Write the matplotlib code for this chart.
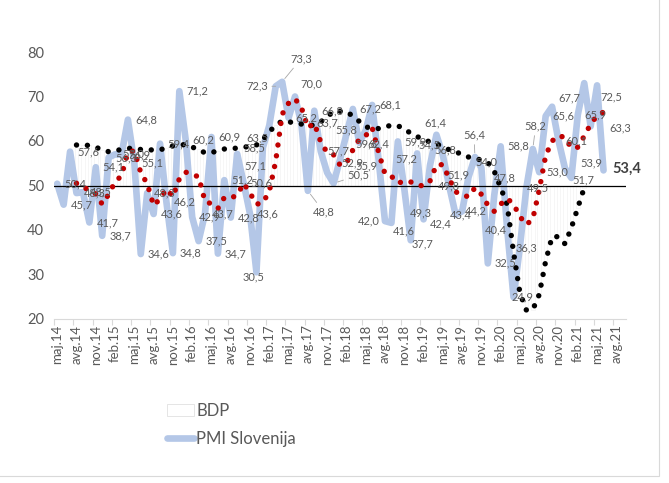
import numpy as np
import matplotlib.pyplot as plt
from matplotlib.patches import Patch, Rectangle
from matplotlib.lines import Line2D

plt.rcParams["font.family"] = ["Lato", "DejaVu Sans"]

nan = np.nan

# quarterly axis labels (every third month, starting maj.14)
tick_labels = [
    "maj.14", "avg.14", "nov.14",
    "feb.15", "maj.15", "avg.15", "nov.15",
    "feb.16", "maj.16", "avg.16", "nov.16",
    "feb.17", "maj.17", "avg.17", "nov.17",
    "feb.18", "maj.18", "avg.18", "nov.18",
    "feb.19", "maj.19", "avg.19", "nov.19",
    "feb.20", "maj.20", "avg.20", "nov.20",
    "feb.21", "maj.21", "avg.21",
]

# PMI Slovenija, monthly from maj.14
pmi = [
    50.4, 45.7, 57.6, 48.3, 48.5, 41.7, 54.1, 38.7, 56.3, 57.0,
    56.9, 64.8, 55.1, 34.6, 48.3, 43.6, 59.4, 46.2, 34.8, 71.2,
    60.2, 42.9, 37.5, 43.7, 60.9, 34.7, 51.2, 42.8, 57.1, 50.6,
    43.6, 30.5, 58.5, 63.5, 72.3, 73.3, 65.2, 70.0, 63.7, 48.8,
    66.8, 57.7, 52.9, 50.5, 55.8, 61.5, 67.2, 59.6, 62.4, 68.1,
    55.9, 42.0, 41.6, 59.9, 49.3, 37.7, 57.2, 42.4, 54.5, 61.4,
    56.8, 49.8, 43.4, 44.2, 51.9, 56.4, 54.0, 32.5, 47.8, 58.8,
    40.4, 24.9, 36.3, 49.5, 58.2, 53.0, 65.6, 67.7, 60.1, 53.9,
    51.7, 65.9, 73.0, 63.3, 72.5, 53.4,
]
# months whose data label is not shown
pmi_hidden = [45, 82]

# red dotted series
pmi_avg = [
    nan, nan, nan,
    50.5, 49.8, 48.8, 48.1, 45.8, 48.0, 50.8, 52.2, 57.5, 57.8,
    52.9, 50.4, 45.5, 47.0, 49.2, 47.5, 51.5, 53.0, 52.4, 52.0,
    46.4, 45.9, 44.8, 47.3, 47.2, 47.8, 50.5, 48.3, 45.8, 46.1,
    48.7, 55.5, 66.0, 68.5, 69.5, 67.5, 63.0, 64.0, 59.8, 57.4,
    56.9, 54.6, 55.0, 58.0, 60.4, 61.2, 63.0, 57.5, 52.6, 52.1,
    50.5, 51.0, 50.8, 50.1, 49.9, 51.0, 54.6, 54.7, 51.5, 48.6,
    47.8, 47.5, 49.5, 48.0, 45.6, 44.2, 45.8, 47.1, 45.8, 43.0,
    41.2, 42.5, 49.0, 56.7, 60.0, 61.2, 60.8, 58.4, 58.6, 61.1,
    63.8, 65.7, 66.5,
]

# BDP (black dotted series, also the faint columns)
bdp = [
    nan, nan, nan,
    59.1, 59.1, 59.0, 58.6, 58.0, 57.6, 57.8, 58.1, 58.4, 58.2,
    58.1, 58.0, 58.0, 58.0, 58.5, 58.9, 59.1, 59.2, 58.6, 58.2,
    57.3, 57.4, 57.8, 58.2, 58.3, 58.4, 58.6, 58.8, 59.1, 60.3,
    62.1, 63.5, 64.5, 64.3, 64.1, 63.8, 63.6, 63.5, 64.3, 65.5,
    66.6, 66.7, 66.6, 65.6, 64.4, 63.2, 62.8, 62.8, 63.1, 63.6,
    63.4, 62.8, 61.7, 61.0, 60.3, 59.8, 59.3, 58.8, 58.0, 57.7,
    56.8, 56.4, 56.1, 55.7, 55.2, 53.2, 49.5, 45.7, 35.0, 25.8,
    22.0, 22.1, 25.5, 33.0, 38.5, 38.5, 36.9, 40.5, 45.0, 49.5,
    nan, nan, nan,
]

# label placement (pixels: dx, dy up, alignment); default is right of the point
label_pos = {
    31: (-3, -5, "center"), 32: (2, 0, "right"), 33: (-1, -12, "right"),
    34: (-8, 0, "right"), 35: (8, 23, "left"), 37: (5, 13, "left"),
    38: (15, 2, "left"), 39: (5, -21, "left"), 42: (14, 10, "left"),
    43: (14, 8, "left"), 44: (-5, 30, "left"), 47: (-4, -1, "left"),
    48: (2, -14, "left"), 50: (-1, -7, "right"), 51: (-5, 0, "right"),
    52: (1, -8, "left"), 54: (6, -24, "left"), 55: (1, -4, "left"),
    56: (0, -5, "right"), 57: (6, -5, "left"), 58: (-12, 21, "left"),
    59: (-12, 12, "left"), 60: (-8, 5, "left"), 61: (-11, 0, "left"),
    62: (-6, 0, "left"), 63: (3, 0, "left"), 64: (1, 2, "right"),
    65: (-12, 22, "left"), 66: (-6, 6, "left"), 68: (0, 17, "left"),
    70: (0, -2, "right"), 71: (-2, 0, "left"), 72: (-4, -1, "left"),
    73: (0, 0, "left"), 74: (-8, 23, "left"), 77: (6, 9, "left"),
    79: (15, 5, "left"), 80: (1, -2, "left"), 83: (19, -2, "left"),
    84: (3, -12, "left"), 85: (9, 2, "left"), 28: (7, -12, "left"),
}
leaders = [34, 35, 39, 43, 65, 74]

fig = plt.figure(figsize=(6.69, 4.83), dpi=100)
ax = fig.add_axes([54 / 669, 1 - 319 / 483, 572 / 669, 267 / 483])

x = np.arange(len(pmi))
xb = np.arange(len(bdp))
bdp_arr = np.array(bdp)
ok = ~np.isnan(bdp_arr)

ax.bar(xb[ok], bdp_arr[ok] - 50, bottom=50, width=0.55, color="white",
       edgecolor="#efefef", linewidth=0.4, zorder=1)
ax.plot(x, pmi, color="#b4c7e7", lw=4.8, solid_joinstyle="round",
        solid_capstyle="round", zorder=2)
ax.axhline(50, color="black", lw=0.9, zorder=2.5)
ax.plot(xb, bdp, color="black", lw=3.9, linestyle=(0, (0.01, 2.0)),
        dash_capstyle="round", zorder=3)
ax.plot(np.arange(len(pmi_avg)), pmi_avg, color="#c00000", lw=3.9,
        linestyle=(0, (0.01, 2.0)), dash_capstyle="round", zorder=4)

for i, v in enumerate(pmi):
    if i in pmi_hidden:
        continue
    dx, dy, ha = label_pos.get(i, (7, 0, "left"))
    txt = f"{v:.1f}".replace(".", ",")
    bold = i == len(pmi) - 1
    kw = dict(xy=(i, v), xytext=(dx * 0.72, dy * 0.72),
              textcoords="offset points", ha=ha, va="center",
              fontsize=10.5 if bold else 8,
              fontweight="bold" if bold else "normal",
              color="#404040" if bold else "#595959", zorder=6)
    if i in leaders:
        kw["arrowprops"] = dict(arrowstyle="-", color="#a6a6a6", lw=0.6,
                                shrinkA=1, shrinkB=3)
    ax.annotate(txt, **kw)

ax.set_xlim(-0.5, 88.5)
ax.set_ylim(20, 80)
ax.set_yticks(range(20, 81, 10))
ax.set_xticks(np.arange(0, 88, 3))
ax.set_xticklabels(tick_labels, rotation=90)
ax.set_xticks(np.arange(-0.5, 87, 3), minor=True)
ax.tick_params(axis="x", which="major", length=0, pad=4, labelsize=9.5,
               labelcolor="#595959")
ax.tick_params(axis="x", which="minor", length=4, color="#d9d9d9", width=0.8)
ax.tick_params(axis="y", length=0, pad=7, labelsize=10.5, labelcolor="#595959")
for s in ["top", "right", "left"]:
    ax.spines[s].set_visible(False)
ax.spines["bottom"].set_color("#d9d9d9")
ax.spines["bottom"].set_linewidth(0.8)
ax.patch.set_alpha(0)

handles = [
    Patch(facecolor="white", edgecolor="#e0e0e0", linewidth=0.6),
    Line2D([0], [0], color="#b4c7e7", lw=4.8, solid_capstyle="round"),
]
fig.legend(handles, ["BDP", "PMI Slovenija"], loc="upper left",
           bbox_to_anchor=(152 / 669, 1 - 388 / 483), frameon=False,
           fontsize=12, labelspacing=0.7, handlelength=1.6,
           handletextpad=0.15, labelcolor="#595959")

fig.patches.append(Rectangle((-0.01, 0.0145), 0.995, 1.0,
                             transform=fig.transFigure, fill=False,
                             edgecolor="#d9d9d9", lw=0.8))

fig.savefig("out.png", dpi=100)
